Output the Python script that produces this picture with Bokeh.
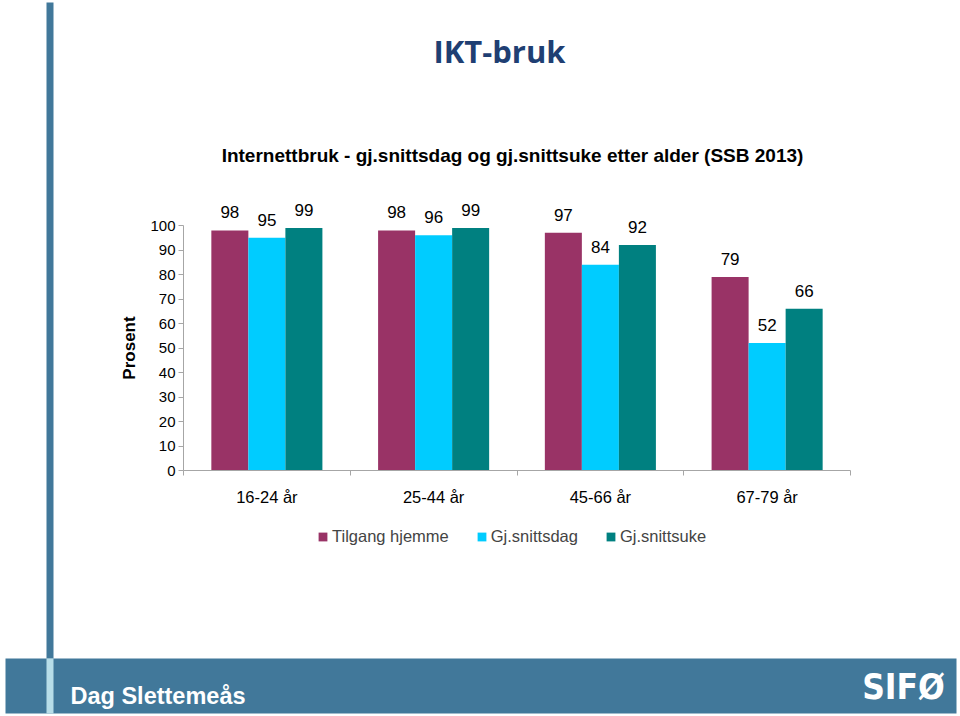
from bokeh.plotting import figure
from bokeh.models import (Range1d, LinearAxis, FixedTicker, Label, BoxAnnotation,
                          Legend, LegendItem, ColumnDataSource)
from bokeh.embed import file_html
from bokeh.resources import INLINE
from bokeh.core.properties import value

# ---- data ----
groups = ["16-24 år", "25-44 år", "45-66 år", "67-79 år"]
series = ["Tilgang hjemme", "Gj.snittsdag", "Gj.snittsuke"]
tilgang = [98, 98, 97, 79]
snittdag = [95, 96, 84, 52]
snittuke = [99, 99, 92, 66]
y_ticks = [0, 10, 20, 30, 40, 50, 60, 70, 80, 90, 100]
colors = ["#993366", "#00CCFF", "#008080"]

slide_title = "IKT-bruk"
chart_title = "Internettbruk - gj.snittsdag og gj.snittsuke etter alder (SSB 2013)"
author = "Dag Slettemeås"
logo = "SIFØ"

# ---- layout constants (pixels) ----
FONT = "Liberation Sans"
W, H = 960, 716
PLOT_LEFT, CAT_W = 183, 166.75      # x of first category edge, width of one category
BASE_Y, PX_PER_UNIT = 470, 2.45     # y of value 0, pixels per percent
BAR_W = 0.222
offsets = [-BAR_W, 0.0, BAR_W]

n = len(groups)
centers = [g + 0.5 for g in range(n)]
edges = list(range(n + 1))

p = figure(width=W, height=H,
           x_range=Range1d(-PLOT_LEFT / CAT_W, (W - PLOT_LEFT) / CAT_W),
           y_range=Range1d(-(H - BASE_Y) / PX_PER_UNIT, BASE_Y / PX_PER_UNIT),
           output_backend="svg", toolbar_location=None,
           x_axis_location=None, y_axis_location=None, min_border=0)
p.outline_line_color = None
p.background_fill_color = "white"
p.border_fill_color = "white"
p.grid.visible = False

# ---- slide decorations ----
BAND = "#41789A"
def box(l, r, t, b, color):
    p.add_layout(BoxAnnotation(left=l, right=r, top=t, bottom=b,
                               left_units="canvas", right_units="canvas",
                               top_units="canvas", bottom_units="canvas",
                               fill_color=color, fill_alpha=1, line_color=None, level="underlay"))
box(46, 53, 2, 658, BAND)
box(5, 956, 658, 713, BAND)
box(46, 53, 658, 713, "#B7DDE8")

p.add_layout(Label(x=499, y=50, x_units="canvas", y_units="canvas", text=slide_title,
                   text_align="center", text_baseline="middle",
                   text_font="Open Sans", text_font_style="bold", text_font_size="31px",
                   text_color="#1F3F73"))
p.add_layout(Label(x=512, y=155, x_units="canvas", y_units="canvas", text=chart_title,
                   text_align="center", text_baseline="middle",
                   text_font=FONT, text_font_style="bold", text_font_size="19px",
                   text_color="black"))
p.add_layout(Label(x=70, y=695, x_units="canvas", y_units="canvas", text=author,
                   text_align="left", text_baseline="middle",
                   text_font=FONT, text_font_style="bold", text_font_size="23.5px",
                   text_color="white"))
p.add_layout(Label(x=903, y=686, x_units="canvas", y_units="canvas", text=logo,
                   text_align="center", text_baseline="middle",
                   text_font="DejaVu Sans Condensed",
                   text_font_style="bold", text_font_size="35px",
                   text_color="white"))

# ---- axes (fixed at the chart's origin) ----
yaxis = LinearAxis(fixed_location=0, ticker=FixedTicker(ticks=y_ticks), bounds=(0, 100),
                   axis_label="Prosent",
                   axis_label_text_font=FONT, axis_label_text_font_size="17px",
                   axis_label_text_font_style="bold", axis_label_text_color="black",
                   axis_label_standoff=8,
                   major_label_text_font=FONT, major_label_text_font_size="15px",
                   major_label_text_color="black", major_label_standoff=3,
                   major_tick_out=5, major_tick_in=0, minor_tick_out=0, minor_tick_in=0,
                   axis_line_color="#A6A6A6", major_tick_line_color="#A6A6A6")
p.add_layout(yaxis, "left")

xaxis = LinearAxis(fixed_location=0, bounds=(0, n),
                   ticker=FixedTicker(ticks=centers, minor_ticks=edges),
                   major_label_overrides={c: g for c, g in zip(centers, groups)},
                   major_tick_out=0, major_tick_in=0, minor_tick_out=5, minor_tick_in=0,
                   major_label_standoff=12,
                   major_label_text_font=FONT, major_label_text_font_size="16.5px",
                   major_label_text_color="black",
                   axis_line_color="#A6A6A6", minor_tick_line_color="#A6A6A6")
p.add_layout(xaxis, "below")

# ---- bars and value labels ----
renderers = []
for i, (name, col, vals) in enumerate(zip(series, colors, [tilgang, snittdag, snittuke])):
    src = ColumnDataSource(dict(x=[c + offsets[i] for c in centers], top=vals,
                                label=[str(v) for v in vals]))
    r = p.vbar(x="x", top="top", bottom=0, width=BAR_W, source=src,
               fill_color=col, line_color=None)
    renderers.append(r)
    p.text(x="x", y="top", text="label", source=src,
           text_align="center", text_baseline="middle", y_offset=-18,
           text_font=value(FONT), text_font_size="17px", text_color="black")

legend = Legend(items=[LegendItem(label=s, renderers=[r]) for s, r in zip(series, renderers)],
                orientation="horizontal", location=(317, H - 546),
                glyph_width=11, glyph_height=11, label_standoff=4, spacing=27,
                label_text_font=FONT, label_text_font_size="16.5px",
                background_fill_alpha=0, border_line_color=None,
                padding=0, margin=0)
p.add_layout(legend, "center")

open("out.html", "w").write(file_html(p, INLINE))
